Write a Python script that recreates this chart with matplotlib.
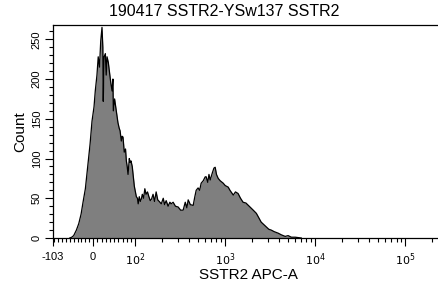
import numpy as np
import matplotlib
matplotlib.use('Agg')
import matplotlib.pyplot as plt
from matplotlib.ticker import FixedLocator, FixedFormatter

plt.rcParams['font.family'] = ['Liberation Sans', 'DejaVu Sans']

# SSTR2 APC-A intensity (channel values) and event counts
apc = [-60, -55, -50, -43, -37, -31, -26, -20, -13, -8, -3, 2, 5, 9, 12, 15, 18, 21, 23, 24,
       26, 29, 31, 33, 36, 39, 42, 45, 47, 48, 51, 55, 59, 62, 64, 67, 69, 71, 74, 77,
       79, 81, 83, 86, 88, 90, 93, 95, 98, 103, 106, 108, 111, 114, 117, 120, 124, 128,
       132, 137, 142, 147, 152, 158, 164, 171, 178, 185, 195, 205, 212, 221, 232, 243,
       251, 264, 280, 300, 320, 341, 360, 375, 388, 410, 441, 460, 476, 500, 520, 541,
       570, 600, 615, 640, 660, 681, 720, 750, 774, 800, 836, 880, 950, 1000, 1080, 1130,
       1230, 1300, 1390, 1480, 1580, 1700, 1890, 2050, 2220, 2350, 2510, 2680, 2850, 3050,
       3240, 3500, 3890, 4200, 4640, 5000, 5430, 6000, 7000]
count = [0, 1, 3, 10, 18, 30, 45, 62, 95, 118, 147, 165, 185, 205, 228, 215, 248, 265, 240, 172,
         228, 232, 205, 228, 221, 208, 195, 185, 200, 160, 175, 160, 145, 138, 135, 122, 128, 127, 108, 112,
         97, 90, 80, 100, 95, 97, 90, 80, 65, 52, 50, 43, 52, 46, 49, 55, 50, 62,
         55, 58, 52, 47, 49, 55, 46, 58, 48, 46, 43, 50, 42, 47, 40, 45,
         43, 45, 40, 39, 35, 35, 45, 38, 48, 42, 41, 52, 60, 63, 60, 69,
         72, 77, 77, 70, 80, 73, 82, 88, 89, 80, 75, 72, 69, 66, 64, 60,
         54, 58, 56, 50, 45, 44, 39, 35, 31, 26, 20, 17, 14, 11,
         10, 8, 6, 4, 2, 3, 1, 1, 0]

x_major = [-103, 0, 100, 1000, 10000, 100000]
x_major_labels = ['-103', '0', '$10^2$', '$10^3$', '$10^4$', '$10^5$']
x_minor = ([v for v in range(-100, 100, 10) if v != 0] + list(range(200, 1000, 100))
           + list(range(2000, 10000, 1000)) + list(range(20000, 100000, 10000)) + [200000])
y_major = [0, 50, 100, 150, 200, 250]


# FlowJo-like display: linear around zero, log above 100
def fwd(x):
    x = np.asarray(x, dtype=float)
    out = np.where(x < 0, x * 0.39, x * 0.42)
    big = x > 100
    out = np.where(big, 42 + 90 * np.log10(np.where(big, x, 100) / 100), out)
    return out


def inv(y):
    y = np.asarray(y, dtype=float)
    out = np.where(y < 0, y / 0.39, y / 0.42)
    big = y > 42
    out = np.where(big, 100 * 10 ** ((np.where(big, y, 42) - 42) / 90), out)
    return out


fig = plt.figure(figsize=(4.38, 2.81), dpi=100)
ax = fig.add_axes([53 / 438, 1 - 238 / 281, 389.9 / 438, 213 / 281])
ax.set_xscale('function', functions=(fwd, inv))

ax.fill_between(apc, count, color='#7f7f7f', linewidth=0)
ax.plot(apc, count, color='black', linewidth=0.9)

ax.set_xlim(-103, 262144)
ax.set_ylim(0, 268)

ax.xaxis.set_major_locator(FixedLocator(x_major))
ax.xaxis.set_major_formatter(FixedFormatter(x_major_labels))
ax.xaxis.set_minor_locator(FixedLocator(x_minor))
ax.yaxis.set_major_locator(FixedLocator(y_major))
ax.yaxis.set_minor_locator(FixedLocator(list(range(0, 268, 10))))

ax.tick_params(axis='both', which='major', direction='out', length=5.5, width=0.8,
               labelsize=8)
ax.tick_params(axis='x', which='major', pad=4.5)
ax.tick_params(axis='y', which='major', pad=2.5)
ax.tick_params(axis='both', which='minor', direction='out', length=3.2, width=0.8)
for lbl in ax.get_yticklabels():
    lbl.set_rotation(90)
    lbl.set_va('center')

ax.spines['right'].set_visible(False)
for s in ['left', 'top', 'bottom']:
    ax.spines[s].set_linewidth(0.9)

ax.set_xlabel('SSTR2 APC-A', fontsize=11, labelpad=0)
ax.set_ylabel('Count', fontsize=11, labelpad=3)
fig.text(224 / 438, 1 - 12 / 281, '190417 SSTR2-YSw137 SSTR2', fontsize=11.5,
         ha='center', va='center')

fig.savefig('out.png', dpi=100)
